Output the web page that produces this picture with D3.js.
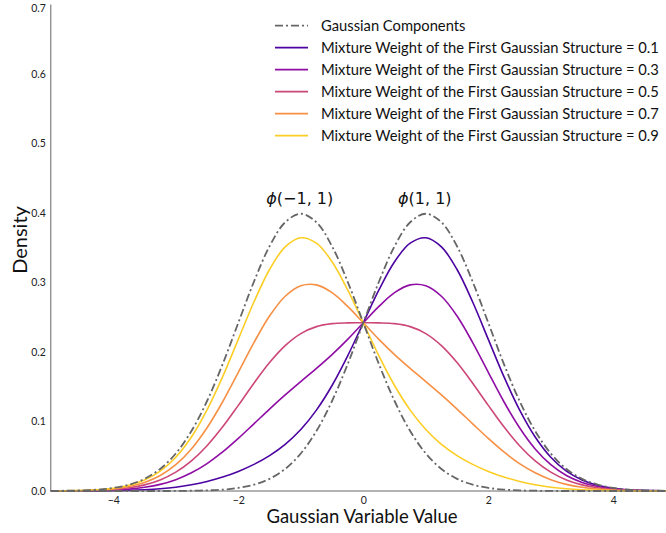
<!DOCTYPE html>
<html>
<head>
<meta charset="utf-8">
<script src="https://cdn.jsdelivr.net/npm/d3@7"></script>
<style>
  html, body { margin: 0; padding: 0; background: #fff; overflow: hidden; }
  svg { display: block; }
</style>
</head>
<body>
<svg id="chart" width="666" height="533"></svg>
<script>
// Evaluation grid of the Gaussian variable (step 0.25)
const xValues = d3.range(41).map(i => -5 + i * 0.25);

// Density of the two Gaussian components, phi(-1,1) and phi(1,1)
const componentLeft = [
  0.0001, 0.0004, 0.0009, 0.0020, 0.0044, 0.0091, 0.0175, 0.0317, 0.0540, 0.0863,
  0.1295, 0.1826, 0.2420, 0.3011, 0.3521, 0.3867, 0.3989, 0.3867, 0.3521, 0.3011,
  0.2420, 0.1826, 0.1295, 0.0863, 0.0540, 0.0317, 0.0175, 0.0091, 0.0044, 0.0020,
  0.0009, 0.0004, 0.0001, 0, 0, 0, 0, 0, 0, 0, 0
];
const componentRight = [
  0, 0, 0, 0, 0, 0, 0, 0, 0.0001, 0.0004,
  0.0009, 0.0020, 0.0044, 0.0091, 0.0175, 0.0317, 0.0540, 0.0863, 0.1295, 0.1826,
  0.2420, 0.3011, 0.3521, 0.3867, 0.3989, 0.3867, 0.3521, 0.3011, 0.2420, 0.1826,
  0.1295, 0.0863, 0.0540, 0.0317, 0.0175, 0.0091, 0.0044, 0.0020, 0.0009, 0.0004, 0.0001
];

// Mixture densities, one per weight of the first component
const mixtureWeights = [0.1, 0.3, 0.5, 0.7, 0.9];
const mixture01 = [
  0, 0, 0.0001, 0.0002, 0.0004, 0.0009, 0.0018, 0.0032, 0.0055, 0.0090,
  0.0138, 0.0201, 0.0282, 0.0383, 0.0510, 0.0672, 0.0885, 0.1164, 0.1518, 0.1944,
  0.2420, 0.2893, 0.3299, 0.3566, 0.3644, 0.3512, 0.3187, 0.2719, 0.2182, 0.1645,
  0.1167, 0.0777, 0.0486, 0.0285, 0.0158, 0.0082, 0.0040, 0.0018, 0.0008, 0.0004, 0.0001
];
const mixture03 = [
  0, 0.0001, 0.0003, 0.0006, 0.0013, 0.0027, 0.0053, 0.0095, 0.0163, 0.0262,
  0.0395, 0.0562, 0.0757, 0.0967, 0.1179, 0.1382, 0.1575, 0.1764, 0.1963, 0.2181,
  0.2420, 0.2656, 0.2854, 0.2966, 0.2954, 0.2802, 0.2518, 0.2135, 0.1707, 0.1284,
  0.0910, 0.0605, 0.0378, 0.0222, 0.0123, 0.0064, 0.0031, 0.0014, 0.0006, 0.0003, 0.0001
];
const mixture05 = [
  0.0001, 0.0002, 0.0004, 0.0010, 0.0022, 0.0046, 0.0088, 0.0159, 0.0271, 0.0434,
  0.0652, 0.0923, 0.1232, 0.1551, 0.1848, 0.2092, 0.2265, 0.2365, 0.2408, 0.2419,
  0.2420, 0.2419, 0.2408, 0.2365, 0.2265, 0.2092, 0.1848, 0.1551, 0.1232, 0.0923,
  0.0652, 0.0434, 0.0271, 0.0159, 0.0088, 0.0046, 0.0022, 0.0010, 0.0004, 0.0002, 0.0001
];
const mixture07 = [
  0.0001, 0.0003, 0.0006, 0.0014, 0.0031, 0.0064, 0.0123, 0.0222, 0.0378, 0.0605,
  0.0910, 0.1284, 0.1707, 0.2135, 0.2518, 0.2802, 0.2954, 0.2966, 0.2854, 0.2656,
  0.2420, 0.2181, 0.1963, 0.1764, 0.1575, 0.1382, 0.1179, 0.0967, 0.0757, 0.0562,
  0.0395, 0.0262, 0.0163, 0.0095, 0.0053, 0.0027, 0.0013, 0.0006, 0.0003, 0.0001, 0
];
const mixture09 = [
  0.0001, 0.0004, 0.0008, 0.0018, 0.0040, 0.0082, 0.0158, 0.0285, 0.0486, 0.0777,
  0.1167, 0.1645, 0.2182, 0.2719, 0.3187, 0.3512, 0.3644, 0.3566, 0.3299, 0.2893,
  0.2420, 0.1944, 0.1518, 0.1164, 0.0885, 0.0672, 0.0510, 0.0383, 0.0282, 0.0201,
  0.0138, 0.0090, 0.0055, 0.0032, 0.0018, 0.0009, 0.0004, 0.0002, 0.0001, 0, 0
];
const mixtureSeries = [mixture01, mixture03, mixture05, mixture07, mixture09];
const mixtureColors = ["#4b03a1", "#8f0da4", "#cc4778", "#f79044", "#fcce25"];

const xTicks = [-4, -2, 0, 2, 4];
const yTicks = [0.0, 0.1, 0.2, 0.3, 0.4, 0.5, 0.6, 0.7];
const componentNames = ["(\u22121, 1)", "(1, 1)"];
const componentMeans = [-1, 1];

const svg = d3.select("#chart");
const uiFont = "Lato, 'Open Sans', sans-serif";

const x = d3.scaleLinear().domain([-5, 5]).range([50.8, 675.8]);
const y = d3.scaleLinear().domain([0, 0.7]).range([491, 4.5]);

const line = d3.line()
  .x((d, i) => x(xValues[i]))
  .y(d => y(d))
  .curve(d3.curveCatmullRom.alpha(0.5));

// Axes: tick labels only, left and bottom spines
const xAxis = svg.append("g")
  .attr("transform", `translate(0,${y(0)})`)
  .call(d3.axisBottom(x).tickValues(xTicks).tickSize(0).tickPadding(6)
    .tickFormat(d => d3.format("")(d).replace("-", "\u2212")));
xAxis.select(".domain").remove();
xAxis.selectAll("text").attr("font-family", uiFont).attr("font-size", 10.5).attr("fill", "#222");

const yAxis = svg.append("g")
  .attr("transform", `translate(${x(-5)},0)`)
  .call(d3.axisLeft(y).tickValues(yTicks).tickSize(0).tickPadding(5).tickFormat(d3.format(".1f")));
yAxis.select(".domain").remove();
yAxis.selectAll("text").attr("font-family", uiFont).attr("font-size", 10.5).attr("fill", "#222");
// keep the top tick label inside the canvas
yAxis.selectAll(".tick").filter(d => d === 0.7).select("text").attr("dy", "0.62em");

const plot = svg.append("g");

// Mixture curves
mixtureSeries.forEach((s, k) => {
  plot.append("path")
    .datum(s)
    .attr("d", line)
    .attr("fill", "none")
    .attr("stroke", mixtureColors[k])
    .attr("stroke-width", 1.6);
});

// Gaussian components (dash-dot)
[componentLeft, componentRight].forEach(s => {
  plot.append("path")
    .datum(s)
    .attr("d", line)
    .attr("fill", "none")
    .attr("stroke", "#666")
    .attr("stroke-width", 1.8)
    .attr("stroke-dasharray", "8,3,2,3");
});

// Spines
svg.append("line")
  .attr("x1", x(-5)).attr("x2", x(-5)).attr("y1", y(0.7)).attr("y2", y(0))
  .attr("stroke", "#666").attr("stroke-width", 1);
svg.append("line")
  .attr("x1", x(-5)).attr("x2", x(5)).attr("y1", y(0)).attr("y2", y(0))
  .attr("stroke", "#666").attr("stroke-width", 1);

// Component annotations
componentNames.forEach((t, k) => {
  const label = svg.append("text")
    .attr("x", x(componentMeans[k]) - 1)
    .attr("y", y(0.4) - 9)
    .attr("text-anchor", "middle")
    .attr("font-family", "'DejaVu Sans', sans-serif")
    .attr("font-size", 16)
    .attr("fill", "#111");
  label.append("tspan").attr("font-style", "italic").text("\u03d5");
  label.append("tspan").text(t);
});

// Axis titles
svg.append("text")
  .attr("x", 362).attr("y", 523)
  .attr("text-anchor", "middle")
  .attr("font-family", uiFont)
  .attr("font-size", 18.5)
  .attr("fill", "#111")
  .text("Gaussian Variable Value");

svg.append("text")
  .attr("transform", "translate(27,240) rotate(-90)")
  .attr("text-anchor", "middle")
  .attr("font-family", uiFont)
  .attr("font-size", 20)
  .attr("fill", "#111")
  .text("Density");

// Legend
const legendItems = [{ label: "Gaussian Components", color: "#666", dash: "8,3,2,3" }]
  .concat(mixtureWeights.map((w, k) => ({
    label: `Mixture Weight of the First Gaussian Structure = ${w}`,
    color: mixtureColors[k],
    dash: null
  })));

const legend = svg.append("g");
const legendTexts = [];
legendItems.forEach((item, i) => {
  const yy = 25.7 + i * 22;
  legend.append("line")
    .attr("x1", 275).attr("x2", 308).attr("y1", yy).attr("y2", yy)
    .attr("stroke", item.color)
    .attr("stroke-width", 1.8)
    .attr("stroke-dasharray", item.dash);
  legendTexts.push(legend.append("text")
    .attr("x", 321).attr("y", yy + 5)
    .attr("font-family", uiFont)
    .attr("font-size", 16)
    .attr("fill", "#111")
    .text(item.label));
});
// size the legend font so the longest label spans about 338px
const longest = d3.max(legendTexts, t => t.node().getComputedTextLength());
const legendSize = 16 * 338 / longest;
legendTexts.forEach(t => t.attr("font-size", legendSize));
</script>
</body>
</html>
